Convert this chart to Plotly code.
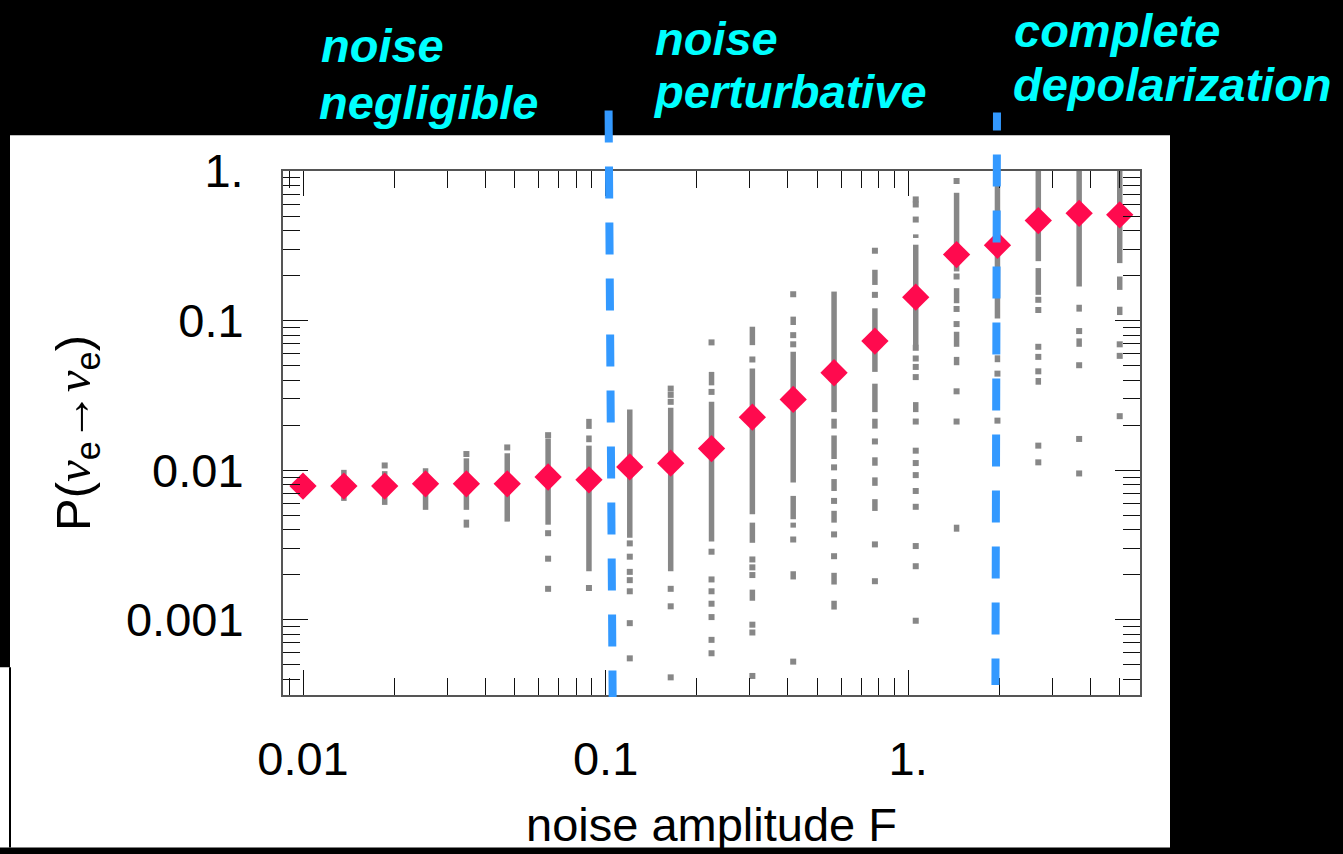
import plotly.graph_objects as go

# ---------------- data ----------------
F = [0.01, 0.01365, 0.01862, 0.02541, 0.03467, 0.04731, 0.06456, 0.0881, 0.1202, 0.1641,
     0.2239, 0.3055, 0.4168, 0.5688, 0.7762, 1.059, 1.445, 1.972, 2.691, 3.672, 5.0]
P_avg = [0.00783, 0.00783, 0.00783, 0.00811, 0.00811, 0.00811, 0.0090, 0.00862, 0.01052, 0.01113,
         0.01395, 0.0226, 0.0297, 0.0448, 0.0729, 0.1433, 0.2762, 0.319, 0.4665, 0.521, 0.509]

# dense runs of individual realisations (column index, upper value, lower value)
seg_col = [0, 1, 2, 3, 4, 4, 5, 6,
           7, 7, 7,
           8,
           9,
           10, 10,
           11, 11, 11, 11,
           12, 12, 12, 12, 12,
           13, 13, 13, 13, 13, 13, 13,
           14, 14, 14, 14, 14, 14, 14,
           15, 15, 15,
           16, 16, 16, 16, 16,
           17, 17,
           18, 18, 18,
           19, 19, 19,
           20, 20, 20]
seg_hi = [0.0090, 0.01005, 0.00985, 0.0103, 0.0120, 0.00467, 0.01297, 0.01629,
          0.02203, 0.01706, 0.01459,
          0.02547,
          0.02614,
          0.0454, 0.02864,
          0.09099, 0.04775, 0.00446, 0.00159,
          0.1063, 0.0618, 0.00673, 0.00446, 0.00211,
          0.1563, 0.02209, 0.01706, 0.00872, 0.00535, 0.00206, 0.00134,
          0.2187, 0.1208, 0.03786, 0.02209, 0.01219, 0.00895, 0.00640,
          0.3770, 0.3216, 0.02851,
          0.7151, 0.1647, 0.0842, 0.0572, 0.00432,
          1.0, 0.0586,
          1.0, 0.2244, 0.0413,
          1.0, 0.1276, 0.0760,
          1.0, 0.1971, 0.1238]
seg_lo = [0.00683, 0.00623, 0.00586, 0.00543, 0.00543, 0.00413, 0.00453, 0.00432,
          0.01888, 0.01538, 0.00211,
          0.00353,
          0.00211,
          0.0369, 0.00334,
          0.06852, 0.00507, 0.00327, 0.00134,
          0.0934, 0.00828, 0.00470, 0.00413, 0.00186,
          0.02444, 0.01897, 0.01188, 0.00726, 0.00446, 0.00172, 0.00117,
          0.1731, 0.0454, 0.02444, 0.01897, 0.01071, 0.00786, 0.00534,
          0.3567, 0.06852, 0.02444,
          0.2131, 0.1306, 0.0668, 0.0503, 0.00388,
          0.1031, 0.0527,
          0.2496, 0.1486, 0.03727,
          0.1690, 0.1148, 0.0668,
          0.2422, 0.1604, 0.1089]

# isolated realisations (column index, value)
dot_col = [2, 4, 5, 6, 6, 6, 6,
           7,
           8, 8, 8, 8, 8, 8, 8,
           9, 9, 9, 9, 9, 9,
           10, 10, 10, 10, 10, 10, 10, 10, 10,
           11, 11, 11, 11, 11, 11, 11,
           12, 12, 12, 12, 12,
           13, 13, 13, 13,
           14, 14, 14, 14, 14,
           15, 15, 15, 15, 15, 15, 15, 15, 15, 15, 15, 15, 15, 15, 15, 15,
           16, 16, 16, 16, 16, 16,
           17, 17,
           18, 18, 18, 18, 18, 18, 18,
           19, 19, 19, 19,
           20, 20, 20]
dot_P = [0.01075, 0.01282, 0.01419, 0.01714, 0.00379, 0.00256, 0.00161,
         0.00163,
         0.00324, 0.00264, 0.00209, 0.00184, 0.00155, 0.000949, 0.000552,
         0.0351, 0.03187, 0.02864, 0.00161, 0.00123, 0.000412,
         0.07149, 0.03336, 0.00285, 0.00186, 0.00155, 0.00128, 0.001042, 0.000734, 0.000597,
         0.05495, 0.00253, 0.00224, 0.00199, 0.000927, 0.000822, 0.000421,
         0.1500, 0.0799, 0.0694, 0.00344, 0.000525,
         0.01044, 0.00623, 0.00372, 0.00266,
         0.2931, 0.1486, 0.01556, 0.00319, 0.00181,
         0.6456, 0.5973, 0.4737, 0.0658, 0.0558, 0.0490, 0.0419, 0.02114, 0.01350, 0.01116,
         0.00927, 0.00726, 0.00569, 0.00311, 0.00228, 0.000985,
         0.8572, 0.1971, 0.1196, 0.0948, 0.03366, 0.02114,
         0.0442, 0.02144,
         0.1377, 0.1177, 0.0668, 0.0572, 0.0458, 0.01459, 0.01128,
         0.0851, 0.0503, 0.01617, 0.00951,
         0.0694, 0.0581, 0.02296]

x_ticks = [0.01, 0.1, 1]
x_ticktext = ["0.01", "0.1", "1."]
y_ticks = [0.001, 0.01, 0.1, 1]
y_ticktext = ["0.001", "0.01", "0.1", "1."]
x_minor = [0.009, 0.02, 0.03, 0.04, 0.05, 0.06, 0.07, 0.08, 0.09,
           0.2, 0.3, 0.4, 0.5, 0.6, 0.7, 0.8, 0.9, 2, 3, 4, 5]
y_minor = [0.0004, 0.0005, 0.0006, 0.0007, 0.0008, 0.0009,
           0.002, 0.003, 0.004, 0.005, 0.006, 0.007, 0.008, 0.009,
           0.02, 0.03, 0.04, 0.05, 0.06, 0.07, 0.08, 0.09,
           0.2, 0.3, 0.4, 0.5, 0.6, 0.7, 0.8, 0.9]

# regime labels, one entry per text line
regime_lines = ["noise", "negligible", "noise", "perturbative", "complete", "depolarization"]
boundary_top = [0.1023, 1.965]      # F where the dashed boundaries start (top)
boundary_bottom = [0.1055, 1.942]   # F where they end (bottom)

# ---------------- figure ----------------
W, H = 1343, 854
L, R, T, B = 283, 203, 171, 154
PW, PH = W - L - R, H - T - B


def px_x(p):
    return (p - L) / PW


def px_y(p):
    return (H - B - p) / PH


GRAY = "#878787"
fig = go.Figure()

sx, sy = [], []
for c, hi, lo in zip(seg_col, seg_hi, seg_lo):
    sx += [F[c], F[c], None]
    sy += [hi, lo, None]
fig.add_trace(go.Scatter(x=sx, y=sy, mode="lines", line=dict(color=GRAY, width=5.5),
                         hoverinfo="skip", showlegend=False))
fig.add_trace(go.Scatter(x=[F[c] for c in dot_col], y=dot_P, mode="markers",
                         marker=dict(symbol="square", size=6, color=GRAY, line=dict(width=0)),
                         showlegend=False))
fig.add_trace(go.Scatter(x=F, y=P_avg, mode="markers",
                         marker=dict(symbol="diamond", size=21, color="#FF0A4E", line=dict(width=0)),
                         showlegend=False))

shapes = []
# white slide panel behind the plot
shapes.append(dict(type="rect", xref="paper", yref="paper", layer="below",
                   x0=px_x(10), x1=px_x(1170), y0=px_y(854), y1=px_y(135),
                   fillcolor="white", line=dict(width=0)))
shapes.append(dict(type="rect", xref="paper", yref="paper", layer="below",
                   x0=px_x(0), x1=px_x(10), y0=px_y(854), y1=px_y(672),
                   fillcolor="white", line=dict(width=0)))
shapes.append(dict(type="line", xref="paper", yref="paper", layer="below",
                   x0=px_x(10), x1=px_x(10), y0=px_y(854), y1=px_y(672),
                   line=dict(color="black", width=2)))
# dashed regime boundaries
dash1 = "32px,24px"
dash2 = "18px,24px," + ",".join(["32px,24px"] * 10)
shapes.append(dict(type="line", xref="x", yref="paper", layer="above",
                   x0=boundary_top[0], x1=boundary_bottom[0], y0=px_y(110), y1=px_y(702),
                   line=dict(color="#3399FF", width=8, dash=dash1)))
shapes.append(dict(type="line", xref="x", yref="paper", layer="above",
                   x0=boundary_top[1], x1=boundary_bottom[1], y0=px_y(112), y1=px_y(690),
                   line=dict(color="#3399FF", width=8, dash=dash2)))

ann_x = [320, 318, 654, 652, 1013, 1012]
ann_y = [44, 102, 37, 91, 29, 84]
annotations = []
for t, ax_, ay_ in zip(regime_lines, ann_x, ann_y):
    annotations.append(dict(text=t, xref="paper", yref="paper", x=px_x(ax_), y=px_y(ay_),
                            xanchor="left", yanchor="middle", align="left", showarrow=False,
                            borderpad=0,
                            font=dict(family="Liberation Sans", size=47, color="#00FFFF",
                                      weight="bold", style="italic")))

FONT = "Liberation Sans"
axis_common = dict(type="log", showline=True, linecolor="#555555", linewidth=2, mirror="ticks",
                   ticks="inside", ticklen=25, tickwidth=1.3, tickcolor="#111111",
                   showgrid=False, zeroline=False, tickmode="array",
                   tickfont=dict(family=FONT, size=47, color="black"))

NU = "<span style=\"font-family:'Liberation Serif'\"><i>ν</i></span>"

fig.update_layout(
    width=W, height=H, autosize=False,
    margin=dict(l=L, r=R, t=T, b=B, pad=0),
    paper_bgcolor="black", plot_bgcolor="white",
    shapes=shapes, annotations=annotations,
    xaxis=dict(axis_common, range=[-2.0661, 0.766], tickvals=x_ticks, ticktext=x_ticktext,
               ticklabelstandoff=22,
               minor=dict(tickmode="array", tickvals=x_minor, ticks="inside", ticklen=17,
                          tickwidth=1, tickcolor="#111111", showgrid=False),
               title=dict(text="noise amplitude F", standoff=24,
                          font=dict(family=FONT, size=47, color="black"))),
    yaxis=dict(axis_common, range=[-3.503, 0.0], tickvals=y_ticks, ticktext=y_ticktext,
               ticklabelstandoff=28,
               minor=dict(tickmode="array", tickvals=y_minor, ticks="inside", ticklen=17,
                          tickwidth=1, tickcolor="#111111", showgrid=False),
               title=dict(text="P(" + NU + "<sub>e</sub>→" + NU + "<sub>e</sub>)",
                          standoff=20, font=dict(family=FONT, size=49, color="black"))),
)

fig.write_html("out.html")
